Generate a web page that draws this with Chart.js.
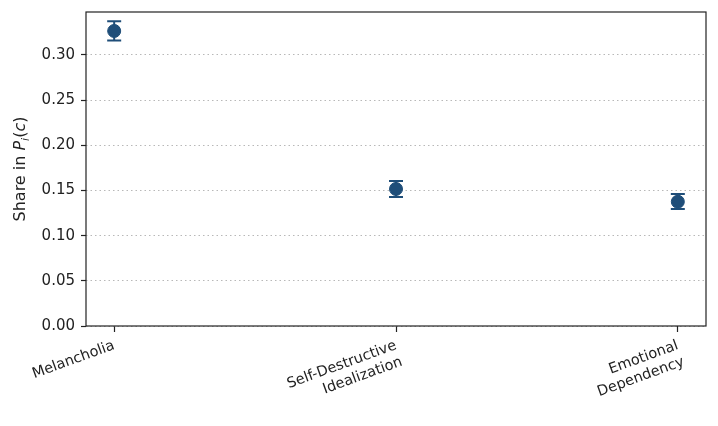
<!DOCTYPE html>
<html lang="en">
<head>
    <meta charset="UTF-8">
    <title>Share in P_i(c)</title>
    <script src="https://cdn.jsdelivr.net/npm/chart.js"></script>
    <style>
        body { margin: 0; background: #fff; }
        .wrap { width: 718px; height: 426px; }
    </style>
</head>
<body>
    <div class="wrap"><canvas id="chart" width="718" height="426"></canvas></div>
    <script>
        // categories and values
        const categories = [["Melancholia"], ["Self-Destructive", "Idealization"], ["Emotional", "Dependency"]];
        const shares = [0.3266, 0.1517, 0.1376];
        const errLow = [0.0105, 0.0090, 0.0082];
        const errHigh = [0.0108, 0.0088, 0.0086];
        const yTicks = [0, 0.05, 0.10, 0.15, 0.20, 0.25, 0.30];

        const markColor = "#1f4e79";
        const font = "DejaVu Sans";

        // error bars, drawn through the scales
        const errorBars = {
            id: "errorBars",
            beforeDatasetsDraw(chart) {
                const { ctx, scales: { x, y } } = chart;
                ctx.save();
                ctx.strokeStyle = markColor;
                ctx.lineWidth = 2;
                shares.forEach((v, i) => {
                    const px = x.getPixelForValue(i);
                    const top = y.getPixelForValue(v + errHigh[i]);
                    const bot = y.getPixelForValue(v - errLow[i]);
                    ctx.beginPath();
                    ctx.moveTo(px, top); ctx.lineTo(px, bot);
                    ctx.moveTo(px - 7, top); ctx.lineTo(px + 7, top);
                    ctx.moveTo(px - 7, bot); ctx.lineTo(px + 7, bot);
                    ctx.stroke();
                });
                ctx.restore();
            }
        };

        // frame round the plot + y axis title with italic parts
        const frameAndTitle = {
            id: "frameAndTitle",
            afterDraw(chart) {
                const { ctx, chartArea: a } = chart;
                ctx.save();
                ctx.strokeStyle = "#222";
                ctx.lineWidth = 1.2;
                ctx.strokeRect(a.left, a.top, a.right - a.left, a.bottom - a.top);

                const parts = [
                    { t: "Share in ", f: "16px " + font, dy: 0 },
                    { t: "P", f: "italic 16px " + font, dy: 0 },
                    { t: "i", f: "italic 11px " + font, dy: 3.5 },
                    { t: "(", f: "16px " + font, dy: 0 },
                    { t: "c", f: "italic 16px " + font, dy: 0 },
                    { t: ")", f: "16px " + font, dy: 0 }
                ];
                let total = 0;
                parts.forEach(p => { ctx.font = p.f; p.w = ctx.measureText(p.t).width; total += p.w; });
                ctx.translate(25, (a.top + a.bottom) / 2);
                ctx.rotate(-Math.PI / 2);
                ctx.fillStyle = "#222";
                ctx.textBaseline = "alphabetic";
                let cx = -total / 2;
                parts.forEach(p => {
                    ctx.font = p.f;
                    ctx.fillText(p.t, cx, p.dy);
                    cx += p.w;
                });
                ctx.restore();
            }
        };

        new Chart(document.getElementById("chart"), {
            type: "scatter",
            data: {
                datasets: [{
                    data: shares.map((v, i) => ({ x: i, y: v })),
                    backgroundColor: markColor,
                    borderColor: markColor,
                    pointRadius: 6.5,
                    pointHoverRadius: 6.5
                }]
            },
            options: {
                responsive: false,
                animation: false,
                layout: { padding: { left: 0, top: 12, right: 12, bottom: 0 } },
                plugins: { legend: { display: false }, tooltip: { enabled: false } },
                scales: {
                    x: {
                        type: "linear",
                        min: -0.1,
                        max: 2.1,
                        afterBuildTicks: s => { s.ticks = categories.map((c, i) => ({ value: i })); },
                        afterFit: s => { s.height = 100; s.paddingLeft = 0; s.paddingRight = 0; },
                        border: { display: false },
                        grid: { drawOnChartArea: false, tickLength: 6, tickColor: "#222", tickWidth: 1.2 },
                        ticks: {
                            callback: v => categories[v],
                            minRotation: 20,
                            maxRotation: 20,
                            color: "#222",
                            padding: 5,
                            font: { family: font, size: 14.5 }
                        }
                    },
                    y: {
                        min: 0,
                        max: 0.3476,
                        afterBuildTicks: s => { s.ticks = yTicks.map(v => ({ value: v })); },
                        afterFit: s => { s.width = 86; s.paddingTop = 0; s.paddingBottom = 0; },
                        border: { display: false, dash: [1.5, 3] },
                        grid: {
                            color: "#b8b8b8",
                            lineWidth: 1,
                            tickLength: 5,
                            tickColor: "#222",
                            tickWidth: 1.2,
                            tickBorderDash: []
                        },
                        ticks: {
                            callback: v => v.toFixed(2),
                            color: "#222",
                            padding: 6,
                            font: { family: font, size: 15 }
                        }
                    }
                }
            },
            plugins: [errorBars, frameAndTitle]
        });
    </script>
</body>
</html>
